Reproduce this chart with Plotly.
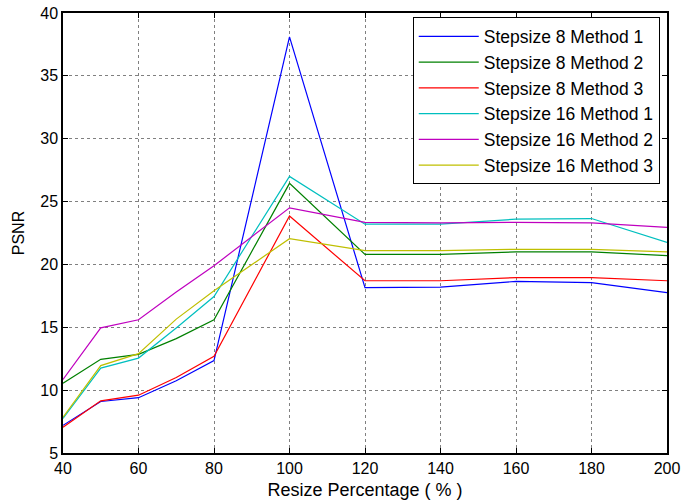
import plotly.graph_objects as go

x = [40, 50, 60, 70, 80, 100, 120, 140, 160, 180, 200]

s8m1 = [7.2, 9.1, 9.4, 10.75, 12.35, 38.1, 18.15, 18.2, 18.65, 18.55, 17.75]
s8m2 = [10.55, 12.45, 12.85, 14.1, 15.6, 26.45, 20.8, 20.8, 21.0, 21.0, 20.7]
s8m3 = [7.05, 9.15, 9.6, 11.0, 12.7, 23.85, 18.7, 18.7, 18.95, 18.95, 18.7]
s16m1 = [7.75, 11.75, 12.55, 14.95, 17.45, 27.0, 23.2, 23.2, 23.6, 23.65, 21.75]
s16m2 = [10.85, 14.95, 15.6, 17.8, 19.9, 24.5, 23.35, 23.3, 23.35, 23.3, 22.95]
s16m3 = [7.85, 11.95, 12.9, 15.65, 17.9, 22.05, 21.1, 21.1, 21.2, 21.2, 21.0]

names = ["Stepsize 8 Method 1", "Stepsize 8 Method 2", "Stepsize 8 Method 3",
         "Stepsize 16 Method 1", "Stepsize 16 Method 2", "Stepsize 16 Method 3"]
series = [s8m1, s8m2, s8m3, s16m1, s16m2, s16m3]
colors = ["#0000ff", "#008000", "#ff0000", "#00bfbf", "#bf00bf", "#bfbf00"]

xticks = [40, 60, 80, 100, 120, 140, 160, 180, 200]
yticks = [5, 10, 15, 20, 25, 30, 35, 40]

FONT = "Liberation Sans, Arial"

fig = go.Figure()
for n, s, c in zip(names, series, colors):
    fig.add_trace(go.Scatter(x=x, y=s, mode="lines", name=n,
                             line=dict(color=c, width=1.2)))

axis_common = dict(showline=True, linecolor="black", linewidth=1.5, mirror="allticks",
                   ticks="inside", ticklen=5, tickcolor="black",
                   showgrid=True, gridcolor="#808080", griddash="dot", gridwidth=1,
                   zeroline=False, automargin=False,
                   tickfont=dict(family=FONT, size=16, color="black"))

fig.update_xaxes(range=[40, 200], tickvals=xticks,
                 title=dict(text="Resize Percentage ( % )", standoff=7,
                            font=dict(family=FONT, size=18, color="black")),
                 **axis_common)
fig.update_yaxes(range=[5, 40], tickvals=yticks,
                 title=dict(text="PSNR", standoff=12,
                            font=dict(family=FONT, size=16, color="black")),
                 **axis_common)

fig.update_layout(
    width=681, height=502,
    margin=dict(l=63, r=14, t=13, b=49),
    paper_bgcolor="white", plot_bgcolor="white",
    legend=dict(x=0.988, y=0.99, xanchor="right", yanchor="top",
                bgcolor="white", bordercolor="black", borderwidth=1,
                font=dict(family=FONT, size=17.5, color="black"),
                tracegroupgap=0, itemwidth=60),
)

fig.write_html("out.html")
